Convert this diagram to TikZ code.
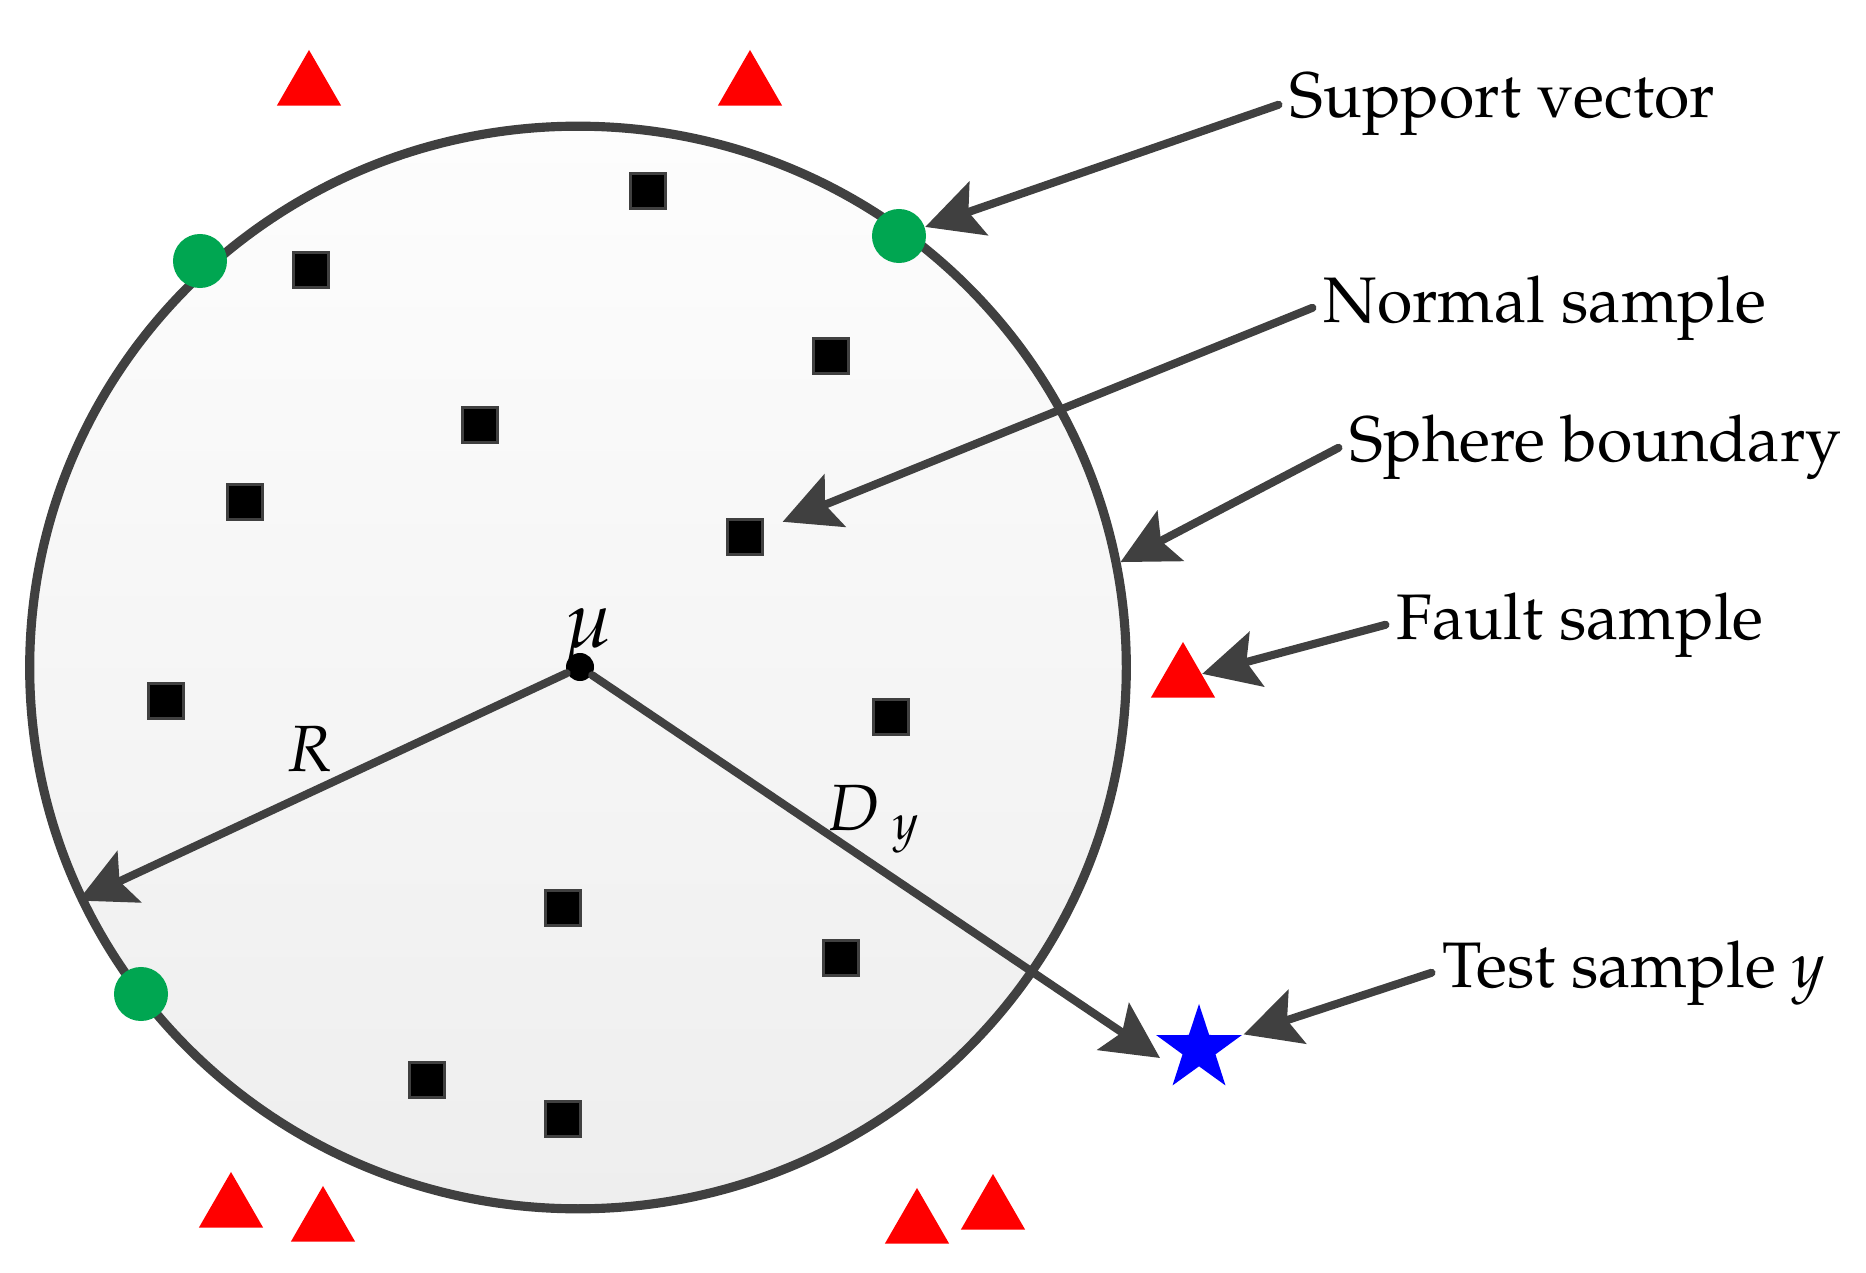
\documentclass[tikz,border=0pt]{standalone}
\usepackage[T1]{fontenc}
\usepackage{mathpazo}
\usepackage{tikz}
\usetikzlibrary{arrows.meta, shapes.geometric, shapes.misc}
\definecolor{mygray}{RGB}{64, 64, 64}
\definecolor{myred}{RGB}{255, 0, 0}
\definecolor{mygreen}{RGB}{0, 166, 81}
\definecolor{myblue}{RGB}{0, 0, 255}
\definecolor{mytop}{RGB}{253, 253, 253}
\definecolor{mybottom}{RGB}{238, 238, 238}

\begin{document}
\begin{tikzpicture}[x=0.01cm, y=-0.01cm,
    normal/.style={rectangle, draw=mygray, fill=black, line width=0.9pt, minimum size=0.35cm, inner sep=0pt},
    fault/.style={regular polygon, regular polygon sides=3, fill=myred, minimum size=0.74cm, inner sep=0pt},
    support/.style={circle, fill=mygreen, minimum size=0.54cm, inner sep=0pt},
    pointer/.style={draw=mygray, line width=2.3pt, line cap=round, -{Stealth[length=16pt, width=16pt, inset=3pt]}},
    legend/.style={anchor=base west, inner sep=0pt, font=\fontsize{18.3}{22}\selectfont},
    sym/.style={inner sep=0pt, font=\fontsize{18.6}{22}\selectfont}]
    \useasboundingbox (0, 0) rectangle (1866, 1273);

    % sphere
    \node[ellipse, draw=mygray, line width=2.6pt, top color=mytop, bottom color=mybottom,
          minimum width=10.96cm, minimum height=10.82cm, inner sep=0pt] (sphere) at (578, 667.5) {};

    % normal samples
    \node[normal] (n1) at (648, 191) {};
    \node[normal] (n2) at (311, 270) {};
    \node[normal] (n3) at (831, 356) {};
    \node[normal] (n4) at (480, 425) {};
    \node[normal] (n5) at (245, 502) {};
    \node[normal] (n6) at (745, 537) {};
    \node[normal] (n7) at (166, 701) {};
    \node[normal] (n8) at (891, 717) {};
    \node[normal] (n9) at (563, 908) {};
    \node[normal] (n10) at (841, 958) {};
    \node[normal] (n11) at (427, 1080) {};
    \node[normal] (n12) at (563, 1119) {};

    % support vectors
    \node[support] (s1) at (200, 261) {};
    \node[support] (s2) at (899, 236) {};
    \node[support] (s3) at (141, 994) {};

    % fault samples
    \node[fault] (f1) at (309, 87) {};
    \node[fault] (f2) at (750, 87) {};
    \node[fault] (f3) at (1183, 679) {};
    \node[fault] (f4) at (231, 1209) {};
    \node[fault] (f5) at (323, 1223) {};
    \node[fault] (f6) at (917, 1225) {};
    \node[fault] (f7) at (993, 1211) {};

    % test sample
    \node[star, star points=5, star point ratio=2.6, fill=myblue, minimum size=0.9cm, inner sep=0pt] (test) at (1199, 1049) {};

    % centre, radius and distance
    \node[circle, fill=black, minimum size=0.28cm, inner sep=0pt] (mu) at (580, 667) {};
    \node[sym, anchor=base west, font=\fontsize{23}{26}\selectfont] (mulabel) at (563, 647) {$\mu$};
    \coordinate (Dtip) at (1160, 1058);
    \draw[pointer] (mu) -- (sphere.205);
    \draw[pointer] (mu) -- (Dtip);
    \node[sym, anchor=base west] (Rlabel) at (286, 771) {$R$};
    \node[sym, anchor=base west] (Dlabel) at (826, 830) {$D_{\;y}$};

    % legend
    \node[legend] (svtext) at (1289, 118) {Support vector};
    \node[legend] (nstext) at (1323, 322) {Normal sample};
    \node[legend] (sbtext) at (1349, 462) {Sphere boundary};
    \node[legend] (fstext) at (1396, 639) {Fault sample};
    \node[legend] (tstext) at (1442, 987) {Test sample $y$};
    \draw[pointer] ([xshift=-3pt]svtext.west) -- (s2);
    \draw[pointer, shorten >=0.2cm] ([xshift=-3pt]nstext.west) -- (n6);
    \draw[pointer] ([xshift=-3pt]sbtext.west) -- (sphere.11);
    \draw[pointer] ([xshift=-3pt]fstext.west) -- (f3);
    \draw[pointer] ([xshift=-3pt]tstext.west) -- (test);
\end{tikzpicture}
\end{document}
